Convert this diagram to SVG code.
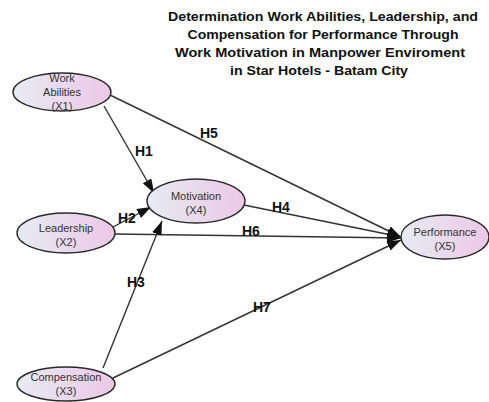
<svg xmlns="http://www.w3.org/2000/svg" width="489" height="402" viewBox="0 0 489 402">
<defs>
<linearGradient id="g" x1="0" y1="0" x2="1" y2="0">
<stop offset="0" stop-color="#e6ebf3"/>
<stop offset="1" stop-color="#ecc8e6"/>
</linearGradient>
<marker id="ah" viewBox="0 0 14 10" refX="14" refY="5" markerWidth="14" markerHeight="10" markerUnits="userSpaceOnUse" orient="auto">
<path d="M0,0 L14,5 L0,10 Z" fill="#111"/>
</marker>
<style>
.n ellipse{fill:url(#g);stroke:#2a2a2a;stroke-width:1.4}
.n text{font-family:"Liberation Sans",Arial,sans-serif;font-size:11px;fill:#333;text-anchor:middle}
.c line{stroke:#333;stroke-width:1.4;marker-end:url(#ah)}
.h{font-family:"Liberation Sans",Arial,sans-serif;font-size:14px;font-weight:bold;fill:#111}
.t{font-family:"Liberation Sans",Arial,sans-serif;font-size:12.5px;font-weight:bold;fill:#111;text-anchor:middle}
</style>
</defs>
<rect width="489" height="402" fill="#fff"/>
<g id="title">
<text class="t" x="323" y="21" textLength="310" lengthAdjust="spacingAndGlyphs">Determination Work Abilities, Leadership, and</text>
<text class="t" x="323" y="39" textLength="271" lengthAdjust="spacingAndGlyphs">Compensation for Performance Through</text>
<text class="t" x="320" y="57" textLength="290" lengthAdjust="spacingAndGlyphs">Work Motivation in Manpower Enviroment</text>
<text class="t" x="319" y="75" textLength="178" lengthAdjust="spacingAndGlyphs">in Star Hotels - Batam City</text>
</g>
<g id="connectors" class="c">
<line x1="104" y1="106" x2="154" y2="193"/>
<line x1="110" y1="95" x2="401" y2="237"/>
<line x1="113" y1="227" x2="151" y2="207"/>
<line x1="115" y1="234" x2="401" y2="238"/>
<line x1="244" y1="205" x2="401" y2="237"/>
<line x1="103" y1="368" x2="162" y2="221"/>
<line x1="113" y1="378" x2="401" y2="240"/>
</g>
<g id="labels">
<text class="h" x="135" y="156">H1</text>
<text class="h" x="200" y="138">H5</text>
<text class="h" x="118" y="223">H2</text>
<text class="h" x="127" y="287">H3</text>
<text class="h" x="272" y="212">H4</text>
<text class="h" x="242" y="236">H6</text>
<text class="h" x="253" y="312">H7</text>
</g>
<g id="x1" class="n">
<ellipse cx="62" cy="92" rx="49" ry="19"/>
<text x="62" y="82">Work</text>
<text x="62" y="96">Abilities</text>
<text x="62" y="110">(X1)</text>
</g>
<g id="x4" class="n">
<ellipse cx="196" cy="201" rx="49" ry="22"/>
<text x="196" y="200">Motivation</text>
<text x="196" y="214">(X4)</text>
</g>
<g id="x2" class="n">
<ellipse cx="66" cy="233" rx="49" ry="20"/>
<text x="66" y="232">Leadership</text>
<text x="66" y="246">(X2)</text>
</g>
<g id="x3" class="n">
<ellipse cx="66" cy="384" rx="49" ry="17"/>
<text x="66" y="381">Compensation</text>
<text x="66" y="395">(X3)</text>
</g>
<g id="x5" class="n">
<ellipse cx="445" cy="237" rx="44" ry="22"/>
<text x="445" y="236">Performance</text>
<text x="445" y="250">(X5)</text>
</g>
</svg>
